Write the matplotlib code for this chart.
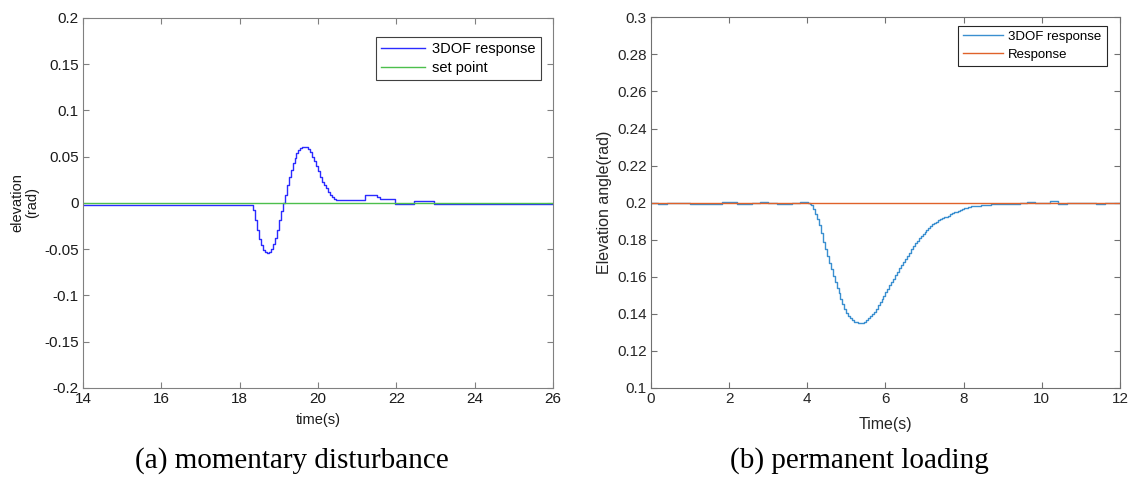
import matplotlib
matplotlib.use("Agg")
import matplotlib.pyplot as plt
from matplotlib.ticker import FixedLocator, FixedFormatter

# ---------------- data: (a) momentary disturbance ----------------
time_a = [14.00, 18.35, 18.40, 18.45, 18.50, 18.55, 18.60, 18.65, 18.70, 18.75,
          18.80, 18.85, 18.90, 18.95, 19.00, 19.05, 19.10, 19.15, 19.20, 19.25,
          19.30, 19.35, 19.40, 19.45, 19.50, 19.55, 19.60, 19.65, 19.70, 19.75,
          19.80, 19.85, 19.90, 19.95, 20.00, 20.05, 20.10, 20.15, 20.20, 20.25,
          20.30, 20.35, 20.40, 20.45, 21.20, 21.51, 21.58, 21.97, 22.45, 22.96,
          26.00]
resp_a = [-0.0025, -0.008, -0.018, -0.029, -0.039, -0.046, -0.051, -0.053, -0.054, -0.053,
          -0.050, -0.045, -0.038, -0.029, -0.019, -0.009, 0.000, 0.009, 0.019, 0.028,
          0.036, 0.043, 0.049, 0.054, 0.057, 0.059, 0.060, 0.0605, 0.060, 0.058,
          0.055, 0.050, 0.045, 0.040, 0.034, 0.028, 0.023, 0.019, 0.016, 0.012,
          0.009, 0.006, 0.004, 0.0035, 0.008, 0.006, 0.004, -0.0015, 0.002, -0.0015,
          -0.0015]
setpoint_a = 0.0
xlim_a = (14, 26)
ylim_a = (-0.2, 0.2)
xticks_a = [14, 16, 18, 20, 22, 24, 26]
yticks_a = [-0.2, -0.15, -0.1, -0.05, 0, 0.05, 0.1, 0.15, 0.2]
ytick_labels_a = ["-0.2", "-0.15", "-0.1", "-0.05", "0", "0.05", "0.1", "0.15", "0.2"]

# ---------------- data: (b) permanent loading ----------------
time_b = [0.00, 0.19, 0.40, 1.00, 1.81, 2.19, 2.58, 2.79, 3.00, 3.22,
          3.60, 3.81, 4.03,
          4.07, 4.10, 4.15, 4.20, 4.25, 4.30, 4.35, 4.40, 4.45, 4.50,
          4.55, 4.60, 4.65, 4.70, 4.75, 4.80, 4.85, 4.90, 4.95, 5.00,
          5.05, 5.10, 5.15, 5.20, 5.25, 5.30, 5.35, 5.40, 5.45, 5.50,
          5.55, 5.60, 5.65, 5.70, 5.75, 5.80, 5.85, 5.90, 5.95, 6.00,
          6.05, 6.10, 6.15, 6.20, 6.25, 6.30, 6.35, 6.40, 6.45, 6.50,
          6.55, 6.60, 6.65, 6.70, 6.75, 6.80, 6.85, 6.90, 6.95, 7.00,
          7.05, 7.10, 7.15, 7.20, 7.25, 7.30, 7.35, 7.40, 7.45, 7.50,
          7.55, 7.60, 7.65, 7.70, 7.75, 7.80, 7.85, 7.90, 7.95, 8.00,
          8.10, 8.20, 8.30, 8.45, 8.60, 8.70, 8.80,
          9.44, 9.61, 9.83, 10.21, 10.42, 10.64, 11.40, 11.62, 12.00]
resp_b = [0.2000, 0.1995, 0.2000, 0.1995, 0.2005, 0.1995, 0.2000, 0.2005, 0.2000, 0.1995,
          0.2000, 0.2005, 0.2000,
          0.1992, 0.1985, 0.1965, 0.1940, 0.1912, 0.1880, 0.1835, 0.1790, 0.1750, 0.1710,
          0.1675, 0.1640, 0.1605, 0.1570, 0.1540, 0.1510, 0.1480, 0.1450, 0.1425, 0.1405,
          0.1388, 0.1375, 0.1365, 0.1358, 0.1353, 0.1350, 0.1350, 0.1352, 0.1358, 0.1368,
          0.1378, 0.1390, 0.1400, 0.1412, 0.1428, 0.1445, 0.1462, 0.1480, 0.1498, 0.1517,
          0.1536, 0.1555, 0.1572, 0.1590, 0.1608, 0.1627, 0.1645, 0.1662, 0.1678, 0.1695,
          0.1712, 0.1728, 0.1747, 0.1765, 0.1780, 0.1795, 0.1807, 0.1818, 0.1829, 0.1840,
          0.1851, 0.1862, 0.1872, 0.1882, 0.1890, 0.1898, 0.1904, 0.1910, 0.1915, 0.1920,
          0.1925, 0.1930, 0.1936, 0.1942, 0.1947, 0.1952, 0.1957, 0.1962, 0.1966, 0.1970,
          0.1977, 0.1980, 0.1983, 0.1985, 0.1988, 0.1990, 0.1995,
          0.2000, 0.2005, 0.2000, 0.2010, 0.1995, 0.2000, 0.1995, 0.2000, 0.2000]
reference_b = 0.2
xlim_b = (0, 12)
ylim_b = (0.1, 0.3)
xticks_b = [0, 2, 4, 6, 8, 10, 12]
yticks_b = [0.1, 0.12, 0.14, 0.16, 0.18, 0.2, 0.22, 0.24, 0.26, 0.28, 0.3]
ytick_labels_b = ["0.1", "0.12", "0.14", "0.16", "0.18", "0.2", "0.22", "0.24", "0.26", "0.28", "0.3"]

# ---------------- figure ----------------
plt.rcParams['font.family'] = ['Liberation Sans', 'DejaVu Sans']
fig = plt.figure(figsize=(11.34, 4.83), dpi=100)

ax1 = fig.add_axes([0.0732, 0.197, 0.4145, 0.766])
ax2 = fig.add_axes([0.574, 0.197, 0.4136, 0.767])


def style_axes(ax, spine_color, label_color, fs):
    for s in ax.spines.values():
        s.set_color(spine_color)
        s.set_linewidth(0.8)
    ax.tick_params(direction='in', length=4, width=0.8, colors=spine_color,
                   labelcolor=label_color, labelsize=fs,
                   top=True, right=True, pad=3)


# (a)
ax1.plot(time_a, resp_a, drawstyle='steps-post', color='#2b2bff', lw=1.0,
         label='3DOF response')
ax1.plot(xlim_a, [setpoint_a, setpoint_a], color='#4cbf4c', lw=1.0, label='set point')
ax1.set_xlim(*xlim_a)
ax1.set_ylim(*ylim_a)
ax1.xaxis.set_major_locator(FixedLocator(xticks_a))
ax1.set_xticklabels([str(v) for v in xticks_a])
ax1.yaxis.set_major_locator(FixedLocator(yticks_a))
ax1.yaxis.set_major_formatter(FixedFormatter(ytick_labels_a))
style_axes(ax1, '#808080', '#1a1a1a', 11)
ax1.set_xlabel('time(s)', fontsize=10.5, labelpad=5, color='#1a1a1a')
ax1.set_ylabel('elevation\n(rad)', fontsize=10.5, labelpad=4, color='#1a1a1a',
               linespacing=1.0)
leg1 = ax1.legend(loc='upper right', bbox_to_anchor=(0.974, 0.949),
                  borderaxespad=0, fontsize=10.5, handlelength=3.0,
                  fancybox=False, framealpha=1, edgecolor='#404040',
                  borderpad=0.35, labelspacing=0.35, handletextpad=0.5)
leg1.get_frame().set_linewidth(0.8)

# (b)
ax2.plot(time_b, resp_b, drawstyle='steps-post', color='#3a8fd0', lw=1.0,
         label='3DOF response')
ax2.plot(xlim_b, [reference_b, reference_b], color='#e0622a', lw=1.0, label='Response')
ax2.set_xlim(*xlim_b)
ax2.set_ylim(*ylim_b)
ax2.xaxis.set_major_locator(FixedLocator(xticks_b))
ax2.set_xticklabels([str(v) for v in xticks_b])
ax2.yaxis.set_major_locator(FixedLocator(yticks_b))
ax2.yaxis.set_major_formatter(FixedFormatter(ytick_labels_b))
style_axes(ax2, '#707070', '#262626', 11)
ax2.set_xlabel('Time(s)', fontsize=11.5, labelpad=8, color='#262626')
ax2.set_ylabel('Elevation angle(rad)', fontsize=11.5, labelpad=4, color='#262626')
leg2 = ax2.legend(loc='upper right', bbox_to_anchor=(0.972, 0.978),
                  borderaxespad=0, fontsize=9.5, handlelength=3.0,
                  fancybox=False, framealpha=1, edgecolor='#262626',
                  borderpad=0.4, labelspacing=0.4, handletextpad=0.4)
leg2.get_frame().set_linewidth(0.8)

# captions
fig.text(292 / 1134, 1 - 468 / 483, '(a) momentary disturbance',
         family=['Liberation Serif', 'DejaVu Serif'], fontsize=21,
         ha='center', va='baseline', color='black')
fig.text(859 / 1134, 1 - 468 / 483, '(b) permanent loading',
         family=['Liberation Serif', 'DejaVu Serif'], fontsize=21,
         ha='center', va='baseline', color='black')

fig.savefig('out.png', dpi=100)
